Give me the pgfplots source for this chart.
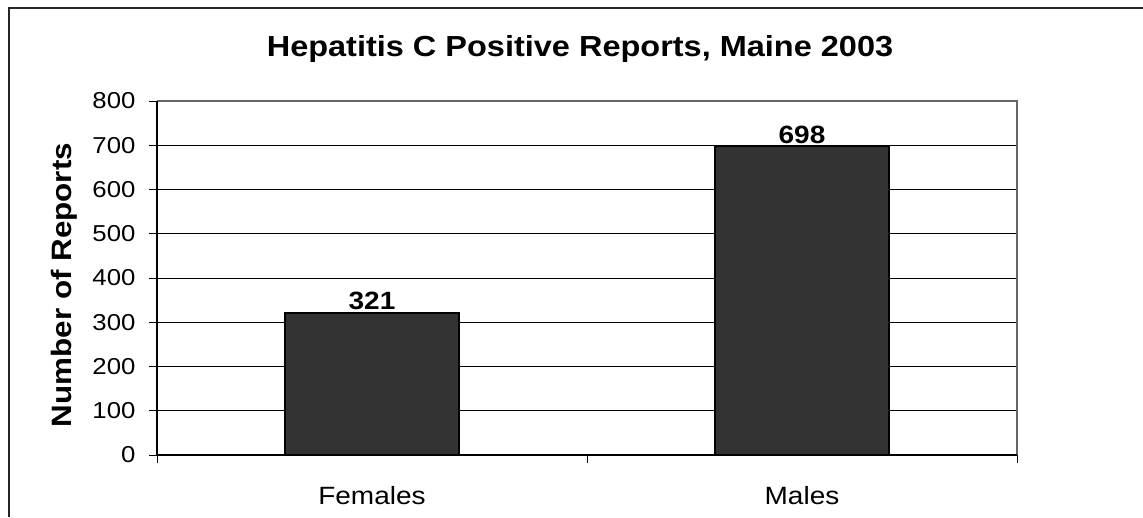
\documentclass[border=0pt]{standalone}
\usepackage{pgfplots}
\pgfplotsset{compat=1.18}
\usepackage{fontspec}
\setmainfont{Liberation Sans}[FakeStretch=1.12]
\definecolor{barfill}{HTML}{333333}
\begin{document}
\begin{tikzpicture}[x=1pt,y=1pt]
\path[use as bounding box] (0,0) rectangle (1143,517);
\draw[line width=1.5pt,black!85] (9,0) -- (9,509) -- (1143,509);
\node[font=\fontsize{29}{34}\selectfont\bfseries, anchor=base] at (580,460) {Hepatitis C Positive Reports, Maine 2003};
\node[font=\fontsize{28}{32}\selectfont\bfseries, rotate=90, anchor=base] at (72,232) {Number of Reports};
\begin{axis}[
  at={(157pt,62pt)}, anchor=south west,
  scale only axis, width=860pt, height=354pt,
  xmin=-0.5, xmax=1.5, ymin=0, ymax=800,
  axis line style={draw=none},
  xtick={-0.5,0.5,1.5}, xticklabels={},
  xtick pos=lower, ytick pos=left,
  extra x ticks={0,1}, extra x tick labels={Females,Males},
  extra x tick style={major tick length=0pt, tick style={draw=none}, xtick pos=lower,
    xticklabel style={font=\fontsize{25}{29}\selectfont, anchor=base, yshift=-49pt}},
  ytick={0,100,...,800},
  tick align=outside, major tick length=8pt,
  tick style={draw=black,line width=1pt},
  ymajorgrids, grid style={black,line width=1pt},
  tick label style={font=\fontsize{23}{27}\selectfont},
  /pgf/number format/assume math mode=true,
  yticklabel style={anchor=east, xshift=-10pt},
  clip=false,
]
\addplot[ybar, bar width=174pt, fill=barfill, draw=black, line width=1.5pt,
  nodes near coords, every node near coord/.append style={font=\fontsize{25}{29}\selectfont\bfseries, anchor=base, yshift=3pt}]
  coordinates {(0,321) (1,698)};
\draw[gray!80!black, line width=1.5pt] (rel axis cs:0,1) -- (rel axis cs:1,1) -- (rel axis cs:1,0);
\draw[black, line width=1.5pt] (rel axis cs:0,0) -- (rel axis cs:0,1);
\draw[black, line width=1.5pt] (rel axis cs:0,0) -- (rel axis cs:1,0);
\end{axis}
\end{tikzpicture}
\end{document}
